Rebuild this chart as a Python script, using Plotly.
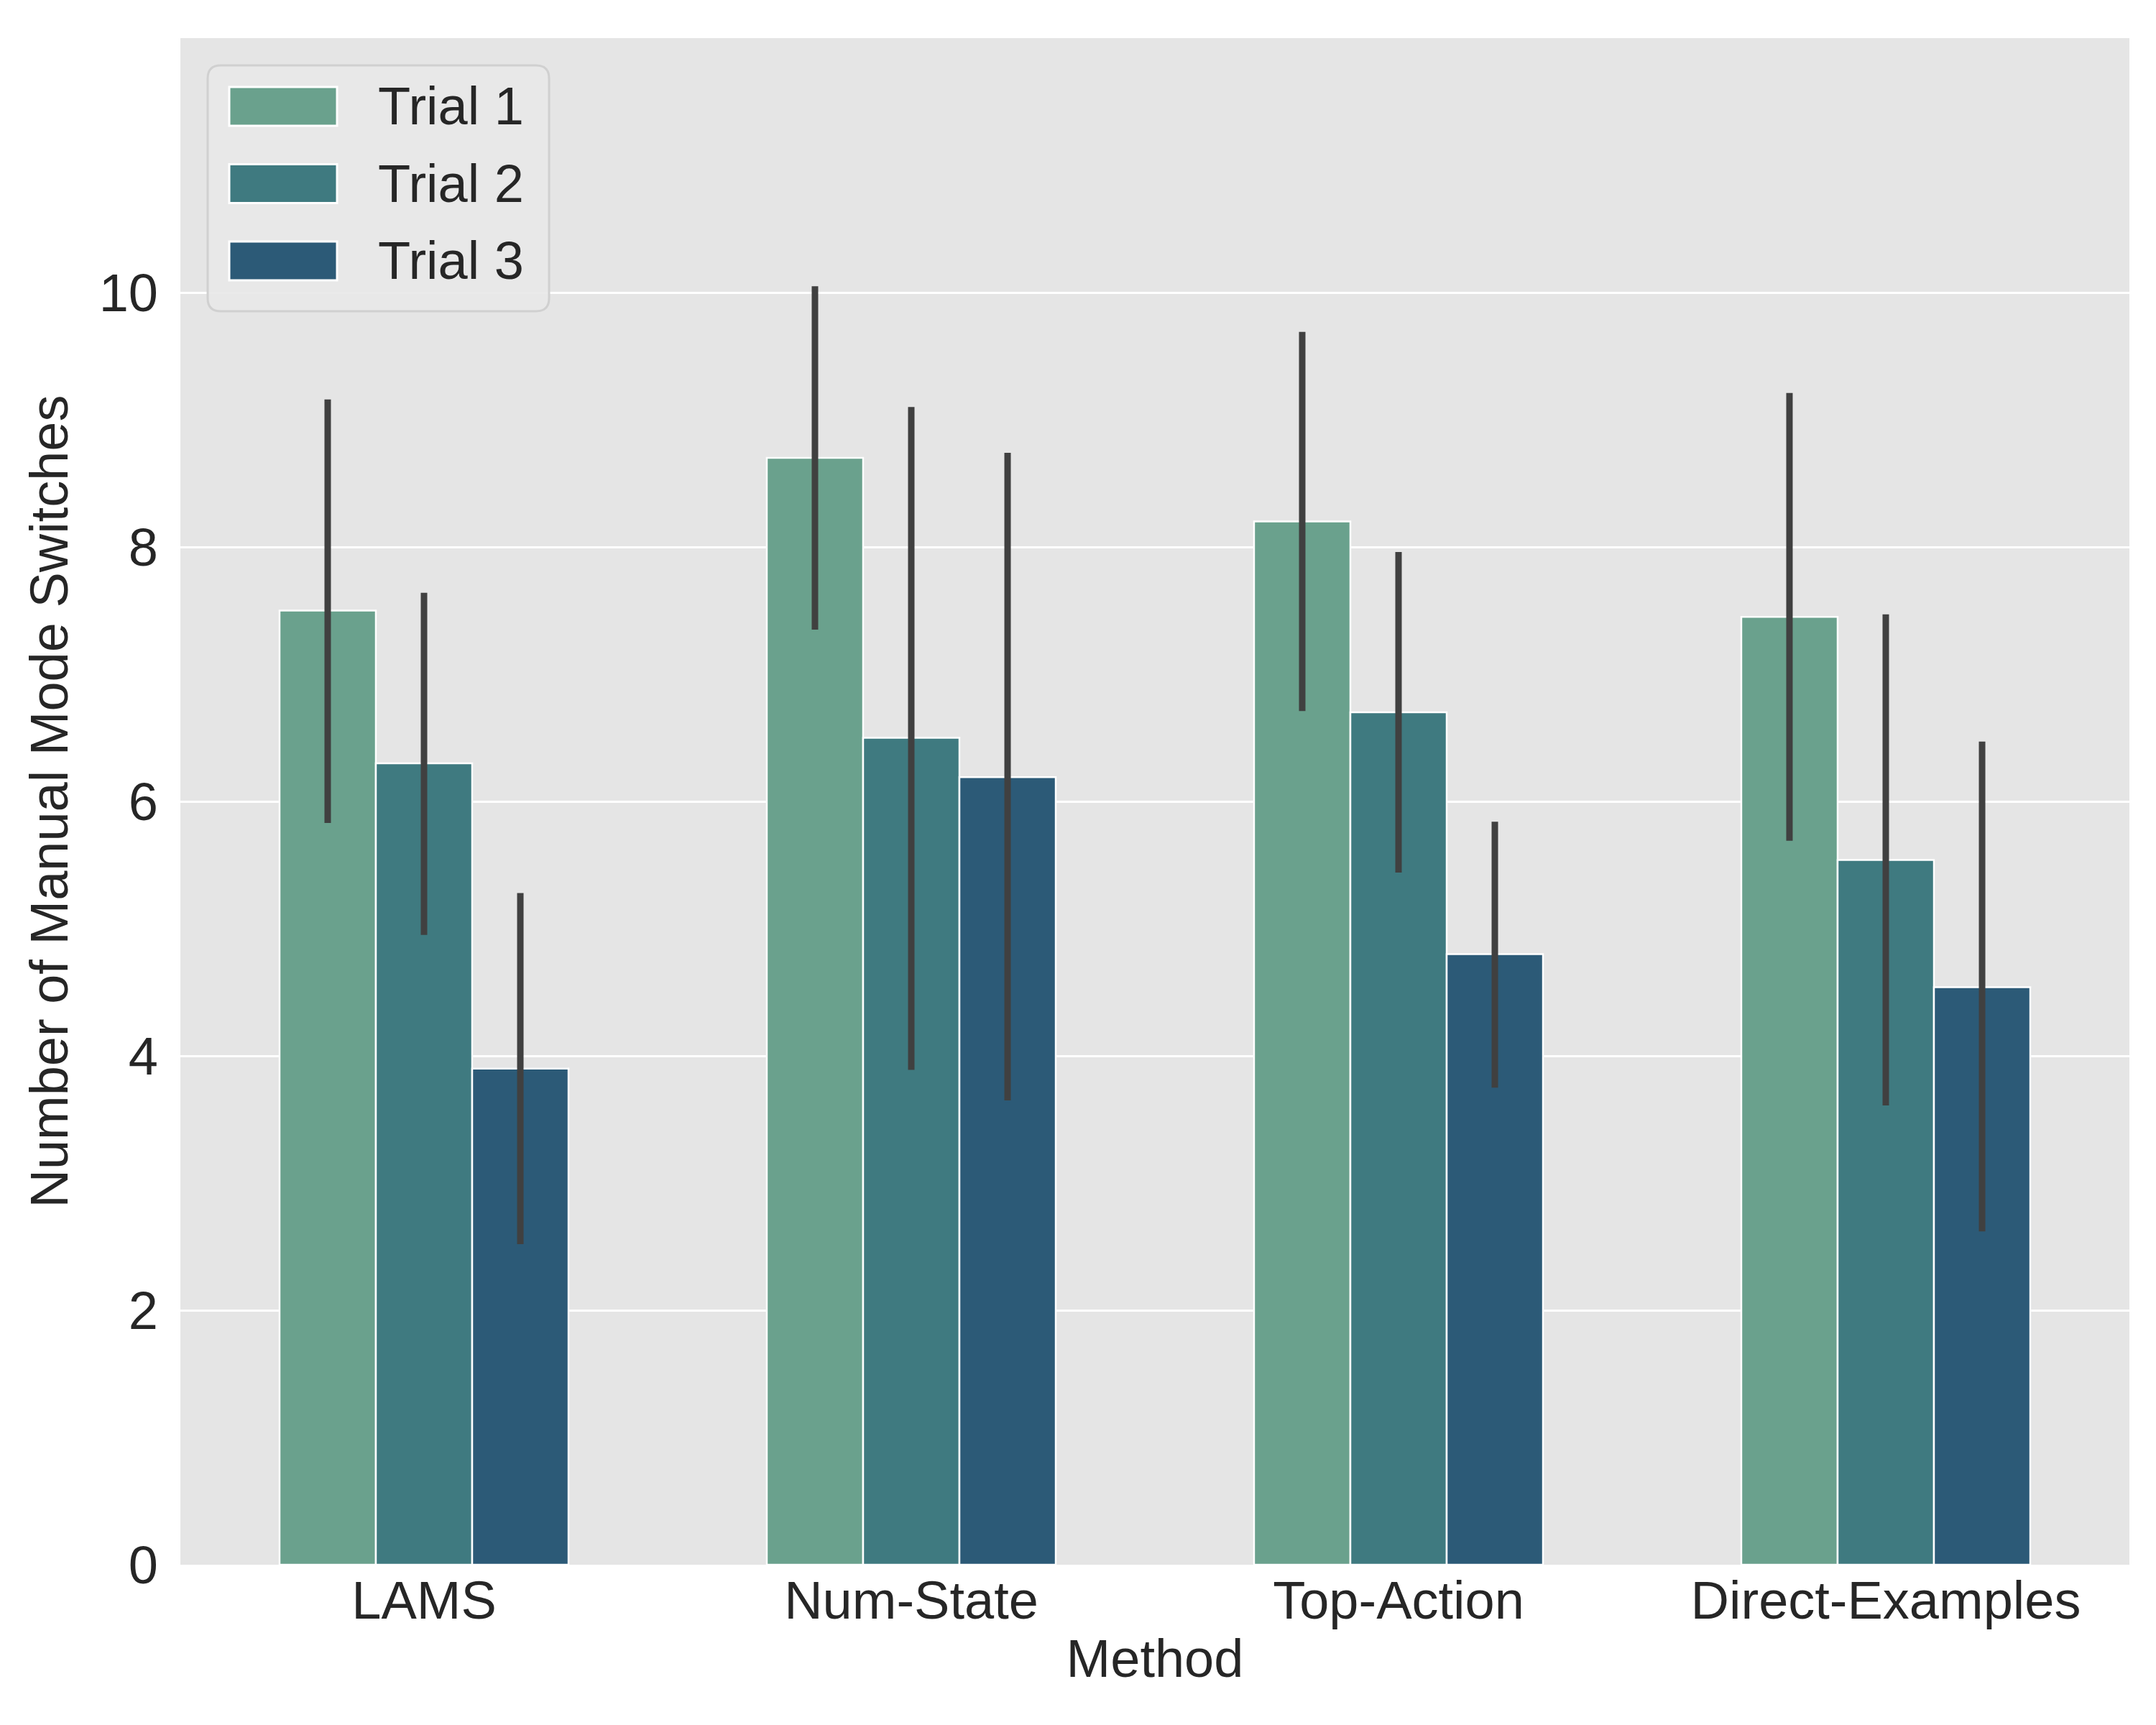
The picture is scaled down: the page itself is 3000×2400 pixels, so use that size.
import plotly.graph_objects as go

methods = ["LAMS", "Num-State", "Top-Action", "Direct-Examples"]
trials = ["Trial 1", "Trial 2", "Trial 3"]
colors = ["#6AA18D", "#3F7A80", "#2C5A77"]

means_t1 = [7.50, 8.70, 8.20, 7.45]
means_t2 = [6.30, 6.50, 6.70, 5.54]
means_t3 = [3.90, 6.19, 4.80, 4.54]

ci_low_t1 = [5.83, 7.35, 6.71, 5.69]
ci_high_t1 = [9.16, 10.05, 9.69, 9.21]
ci_low_t2 = [4.95, 3.89, 5.44, 3.61]
ci_high_t2 = [7.64, 9.10, 7.96, 7.47]
ci_low_t3 = [2.52, 3.65, 3.75, 2.62]
ci_high_t3 = [5.28, 8.74, 5.84, 6.47]

series = [
    (means_t1, ci_low_t1, ci_high_t1),
    (means_t2, ci_low_t2, ci_high_t2),
    (means_t3, ci_low_t3, ci_high_t3),
]

FONT = "Liberation Sans, Arial, sans-serif"
TXT = "#262626"
FS = 74

fig = go.Figure()
for name, col, (m, lo, hi) in zip(trials, colors, series):
    fig.add_trace(go.Bar(
        name=name, x=methods, y=m,
        marker=dict(color=col, line=dict(color="white", width=2.5)),
        error_y=dict(type="data", symmetric=False,
                     array=[h - v for h, v in zip(hi, m)],
                     arrayminus=[v - l for v, l in zip(m, lo)],
                     width=0, thickness=9, color="#404040"),
        showlegend=False,
    ))

# legend drawn as shapes/annotations to match large patches
L, R, T, B = 243, 2955, 45, 2169
W, H = R - L, B - T
def px(x):
    return (x - L) / W
def py(y):
    return 1 - (y - T) / H

# rounded legend frame
bx0, bx1, by0, by1, rad = 281, 756, 83, 425, 18
path = (
    f"M {px(bx0 + rad)},{py(by0)} L {px(bx1 - rad)},{py(by0)} "
    f"Q {px(bx1)},{py(by0)} {px(bx1)},{py(by0 + rad)} "
    f"L {px(bx1)},{py(by1 - rad)} Q {px(bx1)},{py(by1)} {px(bx1 - rad)},{py(by1)} "
    f"L {px(bx0 + rad)},{py(by1)} Q {px(bx0)},{py(by1)} {px(bx0)},{py(by1 - rad)} "
    f"L {px(bx0)},{py(by0 + rad)} Q {px(bx0)},{py(by0)} {px(bx0 + rad)},{py(by0)} Z"
)
fig.add_shape(type="path", xref="paper", yref="paper", path=path,
              fillcolor="rgba(232,232,232,0.9)", line=dict(color="#D0D0D0", width=3),
              layer="above")
for i, (name, col) in enumerate(zip(trials, colors)):
    cy = 140 + i * 107.5
    fig.add_shape(type="rect", xref="paper", yref="paper",
                  x0=px(311), x1=px(461), y0=py(cy + 27), y1=py(cy - 27),
                  fillcolor=col, line=dict(color="white", width=3), layer="above")
    fig.add_annotation(xref="paper", yref="paper", x=px(516), y=py(cy),
                       text=name, showarrow=False, xanchor="left", yanchor="middle",
                       font=dict(family=FONT, size=FS, color=TXT))

fig.update_layout(
    width=3000, height=2400,
    margin=dict(l=L, r=3000 - R, t=T, b=2400 - B),
    paper_bgcolor="white", plot_bgcolor="#E5E5E5",
    barmode="group", bargap=0.407, bargroupgap=0,
    font=dict(family=FONT, size=FS, color=TXT),
)
fig.update_xaxes(
    range=[-0.5, 3.5], showgrid=False, zeroline=False, showline=False,
    ticks="", ticklabelstandoff=0,
    title=dict(text="Method", standoff=14, font=dict(size=FS, family=FONT, color=TXT)),
    tickfont=dict(size=FS, family=FONT, color=TXT),
)
fig.update_yaxes(
    range=[0, 12.0], tickvals=[0, 2, 4, 6, 8, 10], showgrid=True,
    gridcolor="white", gridwidth=2.5, zeroline=False, showline=False,
    ticks="", ticklabelstandoff=30,
    title=dict(text="Number of Manual Mode Switches", standoff=18,
               font=dict(size=FS, family=FONT, color=TXT)),
    tickfont=dict(size=FS, family=FONT, color=TXT),
)

fig.write_html("out.html")
